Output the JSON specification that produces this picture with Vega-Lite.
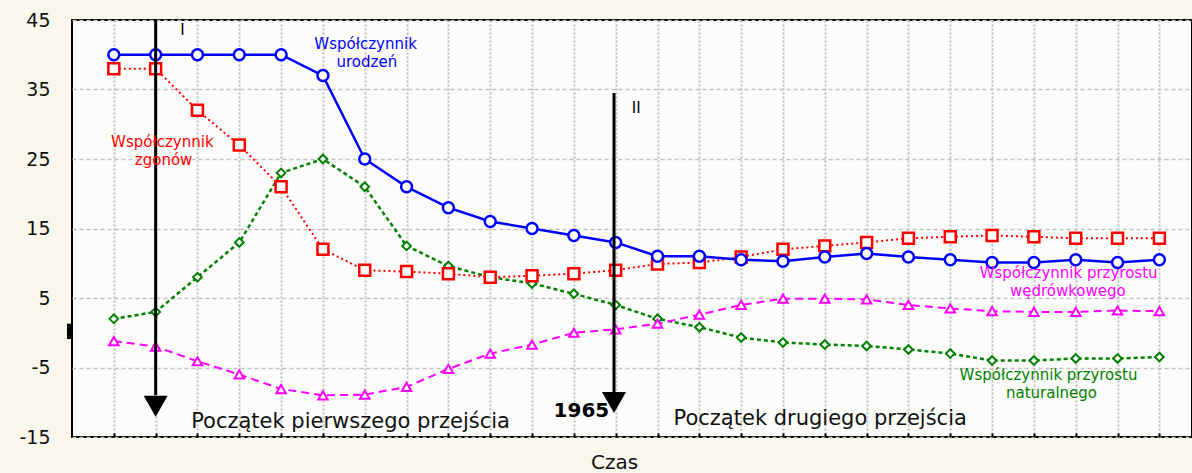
{
  "$schema": "https://vega.github.io/schema/vega-lite/v6.json",
  "width": 1120,
  "height": 417,
  "autosize": {"type": "none"},
  "padding": {"left": 72, "top": 20, "right": 0, "bottom": 36},
  "background": "#f9f7ec",
  "config": {
    "view": {"fill": "#fcfdfa", "stroke": "#000000", "strokeWidth": 2},
    "text": {"font": "DejaVu Sans"}
  },
  "datasets": {
    "rates": [
      {"t": 1, "ur": 40, "zg": 38, "pn": 2.0, "pw": -1.2},
      {"t": 2, "ur": 40, "zg": 38, "pn": 3.0, "pw": -2.0},
      {"t": 3, "ur": 40, "zg": 32, "pn": 8.0, "pw": -4.1},
      {"t": 4, "ur": 40, "zg": 27, "pn": 13, "pw": -6.0},
      {"t": 5, "ur": 40, "zg": 21, "pn": 23, "pw": -8.1},
      {"t": 6, "ur": 37, "zg": 12, "pn": 25, "pw": -9.0},
      {"t": 7, "ur": 25, "zg": 9, "pn": 21, "pw": -8.9},
      {"t": 8, "ur": 21, "zg": 8.8, "pn": 12.5, "pw": -7.8},
      {"t": 9, "ur": 18, "zg": 8.5, "pn": 9.6, "pw": -5.2},
      {"t": 10, "ur": 16, "zg": 8.0, "pn": 8.0, "pw": -3.0},
      {"t": 11, "ur": 15, "zg": 8.2, "pn": 7.1, "pw": -1.7},
      {"t": 12, "ur": 14, "zg": 8.5, "pn": 5.6, "pw": 0},
      {"t": 13, "ur": 13, "zg": 9.0, "pn": 4.0, "pw": 0.5},
      {"t": 14, "ur": 11, "zg": 9.9, "pn": 2.0, "pw": 1.3},
      {"t": 15, "ur": 11, "zg": 10.1, "pn": 0.8, "pw": 2.6},
      {"t": 16, "ur": 10.5, "zg": 10.9, "pn": -0.7, "pw": 4.0},
      {"t": 17, "ur": 10.3, "zg": 12, "pn": -1.4, "pw": 4.9},
      {"t": 18, "ur": 10.9, "zg": 12.5, "pn": -1.7, "pw": 4.9},
      {"t": 19, "ur": 11.4, "zg": 13, "pn": -1.9, "pw": 4.8},
      {"t": 20, "ur": 10.9, "zg": 13.6, "pn": -2.4, "pw": 4.0},
      {"t": 21, "ur": 10.5, "zg": 13.8, "pn": -3.0, "pw": 3.5},
      {"t": 22, "ur": 10.1, "zg": 14.0, "pn": -4.0, "pw": 3.1},
      {"t": 23, "ur": 10.1, "zg": 13.8, "pn": -4.0, "pw": 3.0},
      {"t": 24, "ur": 10.5, "zg": 13.6, "pn": -3.7, "pw": 3.0},
      {"t": 25, "ur": 10.1, "zg": 13.6, "pn": -3.7, "pw": 3.2},
      {"t": 26, "ur": 10.5, "zg": 13.6, "pn": -3.5, "pw": 3.1}
    ],
    "arrows": [
      {"t": 2, "v": 45, "v2": -9.0},
      {"t": 12.96, "v": 34.5, "v2": -8.6}
    ],
    "heads": [
      {"t": 2, "v": -10.58},
      {"t": 12.96, "v": -10.05}
    ],
    "labels": [
      {"text": "Współczynnik", "t": 7.02, "v": 40.82, "s": "ur"},
      {"text": "urodzeń", "t": 7.05, "v": 38.23, "s": "ur"},
      {"text": "Współczynnik", "t": 2.16, "v": 26.71, "s": "zg"},
      {"text": "zgonów", "t": 2.19, "v": 24.12, "s": "zg"},
      {"text": "Współczynnik przyrostu", "t": 23.83, "v": 7.85, "s": "pw"},
      {"text": "wędrówkowego", "t": 23.81, "v": 5.26, "s": "pw"},
      {"text": "Współczynnik przyrostu", "t": 23.35, "v": -6.84, "s": "pn"},
      {"text": "naturalnego", "t": 23.42, "v": -9.43, "s": "pn"}
    ],
    "notes": [
      {"text": "Początek pierwszego przejścia", "t": 6.66, "v": -13.7},
      {"text": "Początek drugiego przejścia", "t": 17.89, "v": -13.3}
    ],
    "romans": [
      {"text": "I", "t": 2.64, "v": 42.8},
      {"text": "II", "t": 13.49, "v": 31.6}
    ],
    "year": [
      {"text": "1965", "t": 12.18, "v": -12.1}
    ],
    "stub": [
      {"t": 0, "v": 1.3, "v2": -0.9}
    ]
  },
  "layer": [
    {
      "data": {"name": "rates"},
      "mark": {"type": "rule", "color": "#000000", "strokeWidth": 1.5},
      "encoding": {
        "x": {
          "field": "t", "type": "quantitative",
          "scale": {"domain": [0, 26.78], "nice": false, "zero": false},
          "axis": {
            "title": "Czas", "values": [1,2,3,4,5,6,7,8,9,10,11,12,13,14,15,16,17,18,19,20,21,22,23,24,25,26],
            "labels": false, "domain": false, "grid": true,
            "gridColor": "#bdbdbd", "gridDash": [2, 2], "gridWidth": 2,
            "ticks": true, "tickSize": -4, "tickColor": "#000000", "tickWidth": 2,
            "titleFont": "DejaVu Sans", "titleFontSize": 20, "titleFontWeight": "normal",
            "titleColor": "#111111", "titleX": 542, "titleY": 25, "titleBaseline": "middle", "titleAlign": "center"
          }
        },
        "y": {
          "datum": 0, "type": "quantitative",
          "scale": {"domain": [-15, 45], "nice": false, "zero": false},
          "axis": {
            "title": null, "values": [-15, -5, 5, 15, 25, 35, 45],
            "labelExpr": "'' + datum.value",
            "domain": false, "ticks": false, "grid": true,
            "gridColor": "#c2c2c2", "gridDash": [4, 3], "gridWidth": 1.5,
            "labelPadding": 22, "labelFont": "DejaVu Sans", "labelFontSize": 19, "labelColor": "#111111"
          }
        }
      }
    },
    {
      "data": {"name": "stub"},
      "mark": {"type": "rule", "color": "#000000", "strokeWidth": 5, "xOffset": -2.5},
      "encoding": {"x": {"field": "t", "type": "quantitative"}, "y": {"field": "v", "type": "quantitative"}, "y2": {"field": "v2"}}
    },
    {
      "data": {"name": "rates"},
      "mark": {"type": "line", "color": "#008000", "strokeWidth": 2.5, "strokeDash": [4, 3]},
      "encoding": {"x": {"field": "t", "type": "quantitative"}, "y": {"field": "pn", "type": "quantitative"}}
    },
    {
      "data": {"name": "rates"},
      "mark": {"type": "line", "color": "#ff00ff", "strokeWidth": 2, "strokeDash": [8, 5]},
      "encoding": {"x": {"field": "t", "type": "quantitative"}, "y": {"field": "pw", "type": "quantitative"}}
    },
    {
      "data": {"name": "rates"},
      "mark": {"type": "line", "color": "#ff0000", "strokeWidth": 2, "strokeDash": [2, 3]},
      "encoding": {"x": {"field": "t", "type": "quantitative"}, "y": {"field": "zg", "type": "quantitative"}}
    },
    {
      "data": {"name": "rates"},
      "mark": {"type": "line", "color": "#0000ff", "strokeWidth": 2.5},
      "encoding": {"x": {"field": "t", "type": "quantitative"}, "y": {"field": "ur", "type": "quantitative"}}
    },
    {
      "data": {"name": "rates"},
      "mark": {"type": "point", "shape": "diamond", "size": 75, "filled": true, "fill": "#fcfdfa", "stroke": "#008000", "strokeWidth": 2, "opacity": 1},
      "encoding": {"x": {"field": "t", "type": "quantitative"}, "y": {"field": "pn", "type": "quantitative"}}
    },
    {
      "data": {"name": "rates"},
      "mark": {"type": "point", "shape": "triangle-up", "size": 90, "filled": true, "fill": "#fcfdfa", "stroke": "#ff00ff", "strokeWidth": 2, "opacity": 1},
      "encoding": {"x": {"field": "t", "type": "quantitative"}, "y": {"field": "pw", "type": "quantitative"}}
    },
    {
      "data": {"name": "rates"},
      "mark": {"type": "point", "shape": "square", "size": 120, "filled": true, "fill": "#fcfdfa", "stroke": "#ff0000", "strokeWidth": 2.5, "opacity": 1},
      "encoding": {"x": {"field": "t", "type": "quantitative"}, "y": {"field": "zg", "type": "quantitative"}}
    },
    {
      "data": {"name": "rates"},
      "mark": {"type": "point", "shape": "circle", "size": 120, "filled": true, "fill": "#fcfdfa", "stroke": "#0000ff", "strokeWidth": 2.5, "opacity": 1},
      "encoding": {"x": {"field": "t", "type": "quantitative"}, "y": {"field": "ur", "type": "quantitative"}}
    },
    {
      "data": {"name": "arrows"},
      "mark": {"type": "rule", "color": "#000000", "strokeWidth": 3},
      "encoding": {"x": {"field": "t", "type": "quantitative"}, "y": {"field": "v", "type": "quantitative"}, "y2": {"field": "v2"}}
    },
    {
      "data": {"name": "heads"},
      "mark": {"type": "point", "shape": "M-1,-0.875L1,-0.875L0,0.875Z", "size": 576, "filled": true, "color": "#000000", "opacity": 1, "strokeWidth": 0},
      "encoding": {"x": {"field": "t", "type": "quantitative"}, "y": {"field": "v", "type": "quantitative"}}
    },
    {
      "data": {"name": "labels"},
      "mark": {"type": "text", "fontSize": 15, "align": "center", "baseline": "alphabetic"},
      "encoding": {
        "x": {"field": "t", "type": "quantitative"},
        "y": {"field": "v", "type": "quantitative"},
        "text": {"field": "text"},
        "color": {"field": "s", "type": "nominal", "legend": null,
          "scale": {"domain": ["ur", "zg", "pn", "pw"], "range": ["#0000ff", "#ff0000", "#008000", "#ff00ff"]}}
      }
    },
    {
      "data": {"name": "notes"},
      "mark": {"type": "text", "fontSize": 21, "align": "center", "baseline": "alphabetic", "color": "#111111"},
      "encoding": {"x": {"field": "t", "type": "quantitative"}, "y": {"field": "v", "type": "quantitative"}, "text": {"field": "text"}}
    },
    {
      "data": {"name": "romans"},
      "mark": {"type": "text", "fontSize": 15, "align": "center", "baseline": "alphabetic", "color": "#000000"},
      "encoding": {"x": {"field": "t", "type": "quantitative"}, "y": {"field": "v", "type": "quantitative"}, "text": {"field": "text"}}
    },
    {
      "data": {"name": "year"},
      "mark": {"type": "text", "fontSize": 20, "fontWeight": "bold", "align": "center", "baseline": "alphabetic", "color": "#000000"},
      "encoding": {"x": {"field": "t", "type": "quantitative"}, "y": {"field": "v", "type": "quantitative"}, "text": {"field": "text"}}
    }
  ]
}
